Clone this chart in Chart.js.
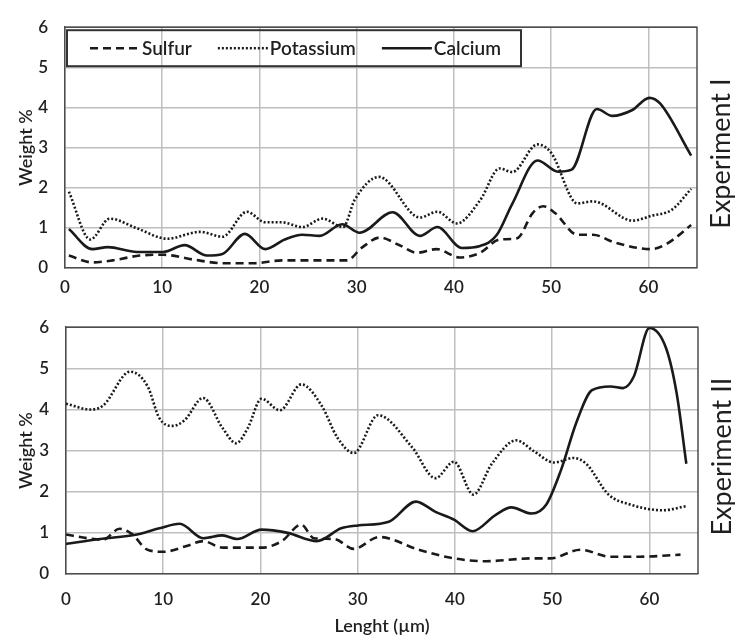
<!DOCTYPE html>
<html>
<head>
<meta charset="utf-8">
<script src="https://cdn.jsdelivr.net/npm/chart.js@4.4.0/dist/chart.umd.min.js"></script>
<style>
  body { margin: 0; background: #fff; }
  canvas { position: absolute; left: 0; }
</style>
</head>
<body>
<canvas id="chartI" width="735" height="300" style="top:0"></canvas>
<canvas id="chartII" width="735" height="339" style="top:300px"></canvas>
<script>
const seriesNames = ['Sulfur', 'Potassium', 'Calcium'];
const xTickStep = 10;
const yTickStep = 1;

// Experiment I
const expISulfurX = [0.4, 2.8, 4.9, 7.7, 10.1, 13.2, 16.2, 19.5, 22.3, 26, 29, 30.5, 32.4, 34.3, 36.2, 38.2, 40.6, 42.7, 44.7, 46.5, 48.1, 49.2, 50.4, 52.7, 54.3, 56.5, 60.3, 62, 64.4];
const expISulfurY = [0.31, 0.14, 0.19, 0.31, 0.33, 0.21, 0.12, 0.12, 0.19, 0.19, 0.19, 0.5, 0.76, 0.58, 0.38, 0.47, 0.26, 0.38, 0.71, 0.74, 1.37, 1.54, 1.37, 0.83, 0.83, 0.64, 0.47, 0.62, 1.07];
const expIPotassiumX = [0.4, 2.6, 4.6, 7.4, 10.5, 13.9, 16.2, 18.7, 20.6, 22.3, 24.4, 26.5, 28.6, 29.8, 32.3, 36.5, 38.3, 40.3, 42.7, 44.7, 46, 48.6, 50, 52.7, 54.3, 58.4, 60.3, 62.4, 64.4];
const expIPotassiumY = [1.9, 0.71, 1.23, 0.99, 0.73, 0.9, 0.78, 1.4, 1.14, 1.14, 1.02, 1.23, 1.02, 1.7, 2.27, 1.26, 1.4, 1.11, 1.69, 2.48, 2.39, 3.08, 2.87, 1.61, 1.66, 1.18, 1.3, 1.45, 1.97];
const expICalciumX = [0.4, 2.8, 4.4, 7.4, 10.1, 12.3, 14.6, 16.2, 18.5, 20.6, 22.6, 24.4, 26.2, 28.5, 30.3, 33.7, 36.5, 38.3, 40.8, 42.7, 44.4, 46, 48.6, 50.7, 52.1, 54.7, 56.3, 58.3, 60.1, 61.2, 64.4];
const expICalciumY = [0.97, 0.47, 0.52, 0.4, 0.4, 0.57, 0.31, 0.35, 0.85, 0.47, 0.71, 0.83, 0.8, 1.09, 0.88, 1.39, 0.8, 1.02, 0.5, 0.55, 0.82, 1.6, 2.68, 2.4, 2.45, 3.96, 3.79, 3.93, 4.24, 4.1, 2.8];

// Experiment II
const expIISulfurX = [0, 2.2, 3.8, 5.5, 6.8, 8.3, 10, 12.4, 14.1, 16.1, 20.1, 22.2, 24.2, 25.5, 27.6, 29.6, 32.2, 36.3, 39.9, 43.2, 47.9, 49.8, 52.9, 56, 59, 63.2];
const expIISulfurY = [0.96, 0.87, 0.83, 1.1, 0.97, 0.6, 0.54, 0.68, 0.8, 0.64, 0.64, 0.8, 1.2, 0.87, 0.85, 0.61, 0.9, 0.59, 0.38, 0.31, 0.38, 0.38, 0.59, 0.42, 0.42, 0.47];
const expIIPotassiumX = [0, 2.5, 3.8, 6.6, 8.4, 9.6, 11, 12.2, 14.1, 16.1, 17.5, 18.7, 20.1, 22, 24.2, 26.3, 27.9, 29.6, 32.1, 35.6, 38, 39.9, 41.9, 43.8, 46.3, 48.1, 50.2, 52.2, 53.5, 55.8, 58, 61.4, 63.8];
const expIIPotassiumY = [4.14, 4.0, 4.09, 4.92, 4.56, 3.79, 3.6, 3.74, 4.28, 3.55, 3.18, 3.55, 4.26, 3.98, 4.61, 4.09, 3.32, 2.94, 3.86, 3.08, 2.33, 2.73, 1.93, 2.68, 3.25, 2.99, 2.71, 2.82, 2.68, 1.93, 1.69, 1.55, 1.65];
const expIICalciumX = [0, 3.5, 7.3, 9.6, 11.7, 14.1, 16.1, 17.6, 20.1, 22.8, 25.8, 28.3, 30, 33.2, 36, 38, 39.9, 41.8, 44.2, 45.8, 47.9, 49.4, 50.9, 52.5, 54.1, 56, 57.3, 58.4, 60, 61.7, 62.8, 63.8];
const expIICalciumY = [0.73, 0.85, 0.96, 1.11, 1.22, 0.87, 0.94, 0.85, 1.08, 1.0, 0.8, 1.11, 1.18, 1.27, 1.76, 1.51, 1.32, 1.04, 1.44, 1.62, 1.47, 1.69, 2.52, 3.69, 4.47, 4.56, 4.52, 4.8, 5.98, 5.5, 4.4, 2.68];

const lineDashes = [[8, 5], [2, 2], []];
const ink = '#1a1a1a';
const textColor = '#1f1f1f';
const fontFamily = 'Lato, "Open Sans", sans-serif';

function toPoints(xs, ys) {
  return xs.map((x, i) => ({ x: x, y: ys[i] }));
}

function buildDatasets(series) {
  return series.map((s, i) => ({
    label: seriesNames[i],
    data: toPoints(s[0], s[1]),
    borderColor: ink,
    borderWidth: 2.6,
    borderDash: lineDashes[i],
    pointRadius: 0,
    fill: false,
    cubicInterpolationMode: 'monotone'
  }));
}

const framePlugin = {
  id: 'frame',
  beforeDatasetsDraw(chart) {
    const a = chart.chartArea;
    const ctx = chart.ctx;
    ctx.save();
    ctx.strokeStyle = '#4d4d4d';
    ctx.lineWidth = 1.5;
    ctx.beginPath();
    ctx.moveTo(a.left, a.top);
    ctx.lineTo(a.right, a.top);
    ctx.lineTo(a.right, a.bottom);
    ctx.stroke();
    ctx.restore();
  }
};

const boxLegendPlugin = {
  id: 'boxLegend',
  afterDraw(chart, args, opts) {
    if (!opts.show) return;
    const a = chart.chartArea;
    const ctx = chart.ctx;
    const left = a.left + 2, top = a.top + 3, w = 454, h = 36;
    ctx.save();
    ctx.strokeStyle = '#333';
    ctx.lineWidth = 2;
    ctx.strokeRect(left, top, w, h);
    ctx.font = '600 19px ' + fontFamily;
    ctx.textBaseline = 'middle';
    ctx.fillStyle = textColor;
    let x = left + 23;
    const y = top + h / 2;
    chart.data.datasets.forEach(ds => {
      ctx.strokeStyle = ink;
      ctx.lineWidth = 2.5;
      ctx.setLineDash(ds.borderDash);
      ctx.beginPath();
      ctx.moveTo(x, y);
      ctx.lineTo(x + 50, y);
      ctx.stroke();
      ctx.setLineDash([]);
      x += 52;
      ctx.fillText(ds.label, x, y + 1);
      x += ctx.measureText(ds.label).width + 26;
    });
    ctx.restore();
  }
};

const sideLabelPlugin = {
  id: 'sideLabel',
  afterDraw(chart, args, opts) {
    const a = chart.chartArea;
    const ctx = chart.ctx;
    ctx.save();
    ctx.translate(a.right + 24, (a.top + a.bottom) / 2 + 6);
    ctx.rotate(-Math.PI / 2);
    ctx.font = '27px ' + fontFamily;
    ctx.fillStyle = textColor;
    ctx.textAlign = 'center';
    ctx.textBaseline = 'middle';
    ctx.fillText(opts.text, 0, 0);
    ctx.restore();
  }
};

function makeChart(id, series, p) {
  const ctx = document.getElementById(id).getContext('2d');
  return new Chart(ctx, {
    type: 'line',
    data: { datasets: buildDatasets(series) },
    plugins: [framePlugin, boxLegendPlugin, sideLabelPlugin],
    options: {
      responsive: false,
      animation: false,
      layout: { padding: { left: 0, right: 735 - p.right, top: p.top, bottom: 0 } },
      scales: {
        x: {
          type: 'linear',
          min: 0,
          max: 65,
          afterFit: scale => { scale.height = p.xHeight; },
          grid: { color: '#bfbfbf', lineWidth: 1.5, drawTicks: false },
          border: { color: '#4d4d4d', width: 1.5 },
          ticks: {
            stepSize: xTickStep,
            includeBounds: false,
            padding: p.xPad,
            color: textColor,
            font: { size: 17, weight: '600', family: fontFamily }
          },
          title: {
            display: !!p.xTitle,
            text: p.xTitle || '',
            color: textColor,
            padding: { top: 0, bottom: 2 },
            font: { size: 18, weight: '600', family: fontFamily }
          }
        },
        y: {
          min: 0,
          max: 6,
          afterFit: scale => { scale.width = p.left; },
          grid: { color: '#bfbfbf', lineWidth: 1.5, drawTicks: false },
          border: { color: '#4d4d4d', width: 1.5 },
          ticks: {
            stepSize: yTickStep,
            padding: 17,
            color: textColor,
            font: { size: 17, weight: '600', family: fontFamily }
          },
          title: {
            display: true,
            text: 'Weight %',
            color: textColor,
            padding: { top: 15, bottom: 0 },
            font: { size: 18, weight: '600', family: fontFamily }
          }
        }
      },
      plugins: {
        legend: { display: false },
        tooltip: { enabled: false },
        boxLegend: { show: p.legend },
        sideLabel: { text: p.side }
      }
    }
  });
}

makeChart('chartI', [
  [expISulfurX, expISulfurY],
  [expIPotassiumX, expIPotassiumY],
  [expICalciumX, expICalciumY]
], { left: 65, right: 697, top: 15, xHeight: 32, xPad: 9, legend: true, side: 'Experiment I' });

makeChart('chartII', [
  [expIISulfurX, expIISulfurY],
  [expIIPotassiumX, expIIPotassiumY],
  [expIICalciumX, expIICalciumY]
], { left: 66, right: 698, top: 19, xHeight: 65, xPad: 15, xTitle: 'Lenght (µm)', legend: false, side: 'Experiment II' });
</script>
</body>
</html>
